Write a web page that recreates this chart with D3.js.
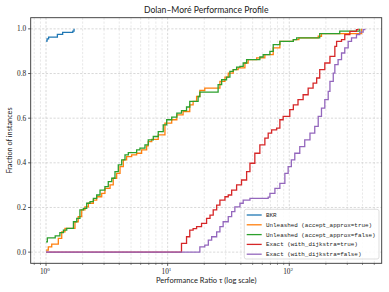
<!DOCTYPE html>
<html>
<head>
<meta charset="utf-8">
<script src="https://cdn.jsdelivr.net/npm/d3@7"></script>
<style>
  body { margin: 0; background: #fff; }
  svg { display: block; }
</style>
</head>
<body>
<div id="profile-chart"></div>
<script>
// legend labels and colours, drawn in this order
const seriesNames = [
  "BKR",
  "Unleashed (accept_approx=true)",
  "Unleashed (accept_approx=false)",
  "Exact (with_dijkstra=true)",
  "Exact (with_dijkstra=false)"
]
const seriesColors = ["#1f77b4", "#ff7f0e", "#2ca02c", "#d62728", "#9467bd"]

// [tau, fraction of instances] -- fraction holds from tau onwards (step after)
const bkr = [[1, 0.945], [1.02, 0.955], [1.05, 0.963], [1.24, 0.975], [1.37, 0.984], [1.66, 0.99], [1.70, 1.0]]

const unleashedTrue = [[1, 0.009], [1.044, 0.024], [1.114, 0.036], [1.262, 0.062], [1.346, 0.091], [1.432, 0.106],
  [1.73, 0.136], [1.84, 0.159], [1.965, 0.189], [2.09, 0.203], [2.23, 0.219], [2.45, 0.233], [2.61, 0.248],
  [2.87, 0.263], [3.05, 0.286], [3.36, 0.301], [3.57, 0.331], [3.81, 0.353], [4.06, 0.383], [4.32, 0.413],
  [4.60, 0.428], [5.06, 0.436], [5.56, 0.443], [6.11, 0.458], [6.72, 0.476], [6.93, 0.495], [7.4, 0.505],
  [8.37, 0.525], [9.50, 0.578], [10.8, 0.593], [11.9, 0.615], [13.4, 0.630], [15.2, 0.660], [16.2, 0.675],
  [17.3, 0.697], [18.4, 0.724], [20.2, 0.735], [26.9, 0.765], [29.6, 0.784], [31.5, 0.802], [34.6, 0.817],
  [38.0, 0.825], [43.2, 0.847], [45.9, 0.862], [53.9, 0.870], [63.0, 0.885], [73.8, 0.915], [83.7, 0.944],
  [108, 0.952], [120, 0.960], [173, 0.967], [184, 0.979], [393, 1.0]]

const unleashedFalse = [[1, 0.046], [1.025, 0.064], [1.19, 0.073], [1.30, 0.087], [1.39, 0.099], [1.48, 0.106],
  [1.68, 0.136], [1.79, 0.151], [1.90, 0.189], [2.03, 0.196], [2.16, 0.219], [2.30, 0.226], [2.45, 0.241],
  [2.61, 0.256], [2.78, 0.278], [3.05, 0.293], [3.25, 0.316], [3.47, 0.331], [3.69, 0.361], [3.93, 0.391],
  [4.19, 0.413], [4.46, 0.436], [4.75, 0.446], [5.56, 0.458], [5.92, 0.466], [6.51, 0.480], [6.93, 0.503],
  [7.62, 0.518], [8.37, 0.540], [9.2, 0.570], [9.82, 0.593], [10.8, 0.605], [11.9, 0.623], [13.0, 0.634],
  [14.3, 0.650], [15.2, 0.675], [17.8, 0.697], [18.4, 0.717], [26.0, 0.750], [27.8, 0.772], [30.5, 0.784],
  [32.5, 0.810], [34.6, 0.817], [36.9, 0.829], [39.3, 0.832], [41.8, 0.847], [44.6, 0.862], [57.3, 0.874],
  [61.0, 0.885], [69.3, 0.899], [73.8, 0.929], [83.7, 0.944], [108, 0.952], [115, 0.960], [178, 0.979],
  [260, 0.99], [380, 1.0]]

const exactDijkstra = [[1, 0], [12.2, 0], [13.0, 0.039], [14.3, 0.069], [15.2, 0.099], [16.2, 0.105], [17.3, 0.114],
  [19.0, 0.129], [20.9, 0.151], [22.3, 0.166], [23.7, 0.189], [25.3, 0.211], [26.9, 0.233], [29.6, 0.248],
  [31.5, 0.256], [33.6, 0.278], [36.9, 0.301], [40.5, 0.323], [44.6, 0.361], [47.5, 0.398], [52.1, 0.443],
  [57.3, 0.480], [63.0, 0.511], [67.1, 0.533], [71.6, 0.548], [78.7, 0.555], [83.7, 0.593], [89.1, 0.608],
  [101, 0.638], [108, 0.660], [118, 0.683], [130, 0.705], [143, 0.735], [157, 0.757], [168, 0.780],
  [178, 0.817], [196, 0.847], [216, 0.877], [237, 0.922], [245, 0.944], [269, 0.952], [286, 0.974],
  [315, 0.989], [357, 0.997], [368, 1.0]]

const exactNoDijkstra = [[1, 0], [17.8, 0], [18.4, 0.024], [20.2, 0.031], [21.6, 0.054], [23.0, 0.069], [25.3, 0.091],
  [26.9, 0.114], [28.6, 0.136], [31.5, 0.159], [33.6, 0.181], [35.7, 0.203], [39.3, 0.219], [41.8, 0.233],
  [47.5, 0.241], [67.1, 0.246], [69.3, 0.263], [76.2, 0.286], [83.7, 0.308], [92.0, 0.353], [97.9, 0.383],
  [104, 0.413], [111, 0.443], [122, 0.473], [134, 0.503], [148, 0.533], [162, 0.563], [173, 0.608],
  [184, 0.645], [196, 0.683], [209, 0.720], [216, 0.765], [230, 0.802], [237, 0.840], [252, 0.862],
  [269, 0.892], [286, 0.915], [305, 0.944], [325, 0.960], [357, 0.974], [380, 0.985], [405, 0.997], [418, 1.0]]

const allSeries = [bkr, unleashedTrue, unleashedFalse, exactDijkstra, exactNoDijkstra]

// axis ticks
const yTicks = [0, 0.2, 0.4, 0.6, 0.8, 1.0]
const xDecades = [0, 1, 2]
const xDomain = [Math.pow(10, -0.126), Math.pow(10, 2.76)]
const yDomain = [-0.05, 1.05]

function buildChart() {
  const margin = {top: 17.7, right: 7.3, bottom: 28.7, left: 30.7}
  const width = 389 - margin.left - margin.right
  const height = 292 - margin.top - margin.bottom

  const svg = d3.select("#profile-chart")
    .append("svg")
    .attr("width", 389)
    .attr("height", 292)
  const g = svg.append("g")
    .attr("transform", "translate(" + margin.left + "," + margin.top + ")")

  const x = d3.scaleLog().domain(xDomain).range([0, width])
  const y = d3.scaleLinear().domain(yDomain).range([height, 0])

  // minor log ticks 2..9 in every decade that falls inside the domain
  const minorTicks = []
  for (let k = -1; k <= 2; k++) {
    for (let m = 2; m <= 9; m++) {
      const v = m * Math.pow(10, k)
      if (v >= xDomain[0] && v <= xDomain[1]) minorTicks.push(v)
    }
  }
  const majorTicks = xDecades.map(k => Math.pow(10, k))

  // grid
  const grid = g.append("g").attr("fill", "none").attr("stroke-dasharray", "2.2,1.6")
  grid.selectAll(".minor").data(minorTicks).enter().append("line")
    .attr("x1", d => x(d)).attr("x2", d => x(d))
    .attr("y1", 0).attr("y2", height)
    .attr("stroke", "#c8c8c8").attr("stroke-width", 0.6).attr("opacity", 0.7)
  grid.selectAll(".major").data(majorTicks).enter().append("line")
    .attr("x1", d => x(d)).attr("x2", d => x(d))
    .attr("y1", 0).attr("y2", height)
    .attr("stroke", "#c8c8c8").attr("stroke-width", 0.7)
  grid.selectAll(".ygrid").data(yTicks).enter().append("line")
    .attr("x1", 0).attr("x2", width)
    .attr("y1", d => y(d)).attr("y2", d => y(d))
    .attr("stroke", "#c8c8c8").attr("stroke-width", 0.7)

  // curves
  const line = d3.line()
    .x(d => x(d[0]))
    .y(d => y(d[1]))
    .curve(d3.curveStepAfter)

  allSeries.forEach(function(data, i) {
    g.append("path")
      .datum(data)
      .attr("fill", "none")
      .attr("stroke", seriesColors[i])
      .attr("stroke-width", 1.3)
      .attr("stroke-linejoin", "miter")
      .attr("d", line)
  })

  // spines
  g.append("rect")
    .attr("x", 0).attr("y", 0)
    .attr("width", width).attr("height", height)
    .attr("fill", "none")
    .attr("stroke", "#333")
    .attr("stroke-width", 0.9)

  // x axis ticks
  const xAxis = g.append("g").attr("transform", "translate(0," + height + ")")
  xAxis.selectAll(".minor").data(minorTicks).enter().append("line")
    .attr("x1", d => x(d)).attr("x2", d => x(d))
    .attr("y1", 0).attr("y2", 1.6)
    .attr("stroke", "#333").attr("stroke-width", 0.6)
  xAxis.selectAll(".major").data(majorTicks).enter().append("line")
    .attr("x1", d => x(d)).attr("x2", d => x(d))
    .attr("y1", 0).attr("y2", 2.6)
    .attr("stroke", "#333").attr("stroke-width", 0.8)
  const xLabels = xAxis.selectAll(".xlab").data(xDecades).enter().append("text")
    .attr("x", d => x(Math.pow(10, d)) - 1.2)
    .attr("y", 10.3)
    .attr("text-anchor", "middle")
    .attr("font-family", "'Liberation Serif', serif")
    .attr("font-size", 7.3)
    .attr("fill", "#222")
  xLabels.append("tspan").text("10")
  xLabels.append("tspan").attr("dy", -3).attr("font-size", 5).text(d => d)

  // y axis ticks
  const yAxis = g.append("g")
  yAxis.selectAll("line").data(yTicks).enter().append("line")
    .attr("x1", -2.6).attr("x2", 0)
    .attr("y1", d => y(d)).attr("y2", d => y(d))
    .attr("stroke", "#333").attr("stroke-width", 0.8)
  yAxis.selectAll("text").data(yTicks).enter().append("text")
    .attr("x", -4.5)
    .attr("y", d => y(d) + 2.4)
    .attr("text-anchor", "end")
    .attr("font-family", "'Liberation Serif', serif")
    .attr("font-size", 7.3)
    .attr("fill", "#222")
    .text(d => d.toFixed(1))

  // title and axis labels
  svg.append("text")
    .attr("x", margin.left + width / 2)
    .attr("y", 13.3)
    .attr("text-anchor", "middle")
    .attr("font-family", "Lato, sans-serif")
    .attr("font-size", 8.6)
    .attr("fill", "#222")
    .text("Dolan\u2013Mor\u00e9 Performance Profile")
  svg.append("text")
    .attr("x", margin.left + width / 2)
    .attr("y", 283)
    .attr("text-anchor", "middle")
    .attr("font-family", "Lato, sans-serif")
    .attr("font-size", 7.5)
    .attr("fill", "#222")
    .text("Performance Ratio \u03c4 (log scale)")
  svg.append("text")
    .attr("transform", "translate(12.3," + (margin.top + height / 2) + ") rotate(-90)")
    .attr("text-anchor", "middle")
    .attr("font-family", "Lato, sans-serif")
    .attr("font-size", 7.3)
    .attr("fill", "#222")
    .text("Fraction of instances")

  // legend
  const legend = svg.append("g").attr("transform", "translate(244.3,209.3)")
  legend.append("rect")
    .attr("width", 134.7).attr("height", 49.7)
    .attr("rx", 2).attr("ry", 2)
    .attr("fill", "#fff").attr("fill-opacity", 0.85)
    .attr("stroke", "#d0d0d0").attr("stroke-width", 0.7)
  const entries = legend.selectAll(".entry").data(seriesNames).enter().append("g")
    .attr("transform", (d, i) => "translate(0," + (5.7 + i * 9.8) + ")")
  entries.append("line")
    .attr("x1", 2.4).attr("x2", 17.4)
    .attr("y1", 0).attr("y2", 0)
    .attr("stroke", (d, i) => seriesColors[i])
    .attr("stroke-width", 1.3)
  entries.append("text")
    .attr("x", 21.7)
    .attr("y", 2)
    .attr("font-family", "'Liberation Mono', monospace")
    .attr("font-size", 5.9)
    .attr("fill", "#222")
    .text(d => d)
}

buildChart()
</script>
</body>
</html>
